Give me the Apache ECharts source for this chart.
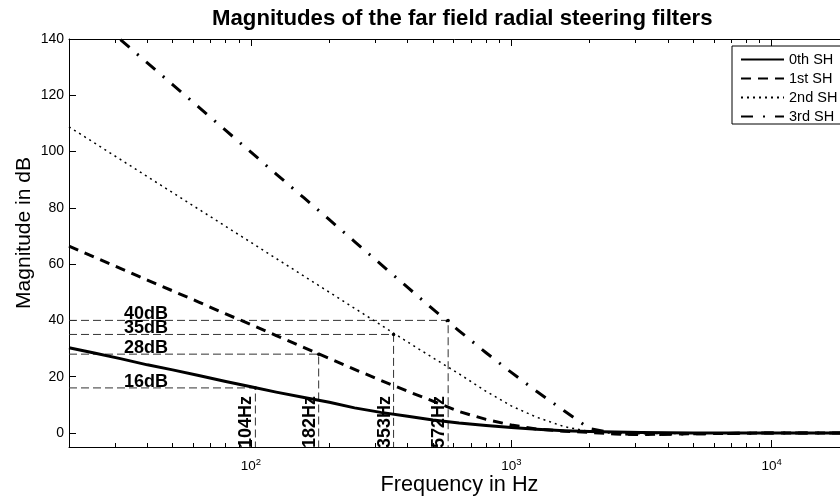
<!DOCTYPE html>
<html>
<head>
<meta charset="utf-8">
<script src="https://cdn.jsdelivr.net/npm/echarts@6/dist/echarts.min.js"></script>
<style>
html,body{margin:0;padding:0;background:#fff;}
#chart{width:840px;height:500px;}
</style>
</head>
<body>
<div id="chart"></div>
<script>
// ---- data ----
const freqs = [20, 25, 31.5, 40, 50, 63, 80, 100, 125, 160, 200, 250, 315, 400, 500, 630, 800, 1000, 1250, 1600, 2000, 2500, 3150, 4000, 5000, 6300, 8000, 10000, 12500, 16000, 20000];
const sh0 = [30.3, 28.4, 26.4, 24.2, 22.4, 20.4, 18.3, 16.4, 14.5, 12.6, 10.9, 8.9, 7.3, 5.9, 4.6, 3.5, 2.6, 1.9, 1.3, 0.8, 0.5, 0.3, 0.15, 0.1, 0.0, 0.0, 0.0, 0.0, 0.0, 0.0, 0.0];
const sh1 = [66.4, 62.5, 58.5, 54.3, 50.5, 46.5, 42.3, 38.5, 34.6, 30.3, 26.5, 22.6, 18.7, 14.8, 11.3, 7.6, 4.8, 2.8, 1.4, 0.6, 0.2, -0.4, -0.6, -0.4, -0.3, -0.2, -0.1, 0.0, 0.0, 0.0, 0.0];
const sh2 = [108.8, 103.1, 97.2, 91.1, 85.4, 79.5, 73.4, 67.7, 62.0, 55.7, 50.0, 44.3, 38.4, 32.3, 26.7, 21.0, 14.8, 9.6, 5.6, 2.2, 0.5, -0.2, -0.3, -0.2, -0.1, 0.0, 0.0, 0.0, 0.0, 0.0, 0.0];
const sh3 = [155.6, 147.9, 139.8, 131.5, 123.8, 115.8, 107.5, 99.8, 92.0, 83.5, 75.8, 68.0, 60.0, 51.7, 44.0, 36.3, 28.5, 21.5, 14.8, 7.8, 1.5, -0.2, -0.6, -0.5, -0.3, -0.2, -0.1, 0.0, 0.0, 0.0, 0.0];
const seriesNames = ['0th SH', '1st SH', '2nd SH', '3rd SH'];

const markerFreqs = [104, 182, 353, 572];
const markerDb = [16, 28, 35, 40];
const markerDbLabels = ['16dB', '28dB', '35dB', '40dB'];
const markerHzLabels = ['104Hz', '182Hz', '353Hz', '572Hz'];

const xMin = 20, xMax = 20000, yMin = -5, yMax = 140;
const xMajorTicks = [100, 1000, 10000];
const xMinorTicks = [20, 30, 40, 50, 60, 70, 80, 90, 200, 300, 400, 500, 600, 700, 800, 900, 2000, 3000, 4000, 5000, 6000, 7000, 8000, 9000, 20000];
const yTicks = [0, 20, 40, 60, 80, 100, 120, 140];

// ---- chart ----
const FONT = '"Liberation Sans", Arial, Helvetica, sans-serif';
const chart = echarts.init(document.getElementById('chart'), null, {renderer: 'canvas'});

function pairs(arr) { return freqs.map((f, i) => [f, arr[i]]); }

const axisLineStyle = {color: '#000', width: 1};

function xAxisBase(extra) {
  return Object.assign({
    type: 'log', logBase: 10, min: xMin, max: xMax, gridIndex: 0,
    splitLine: {show: false}, axisLabel: {show: false},
    axisLine: {show: false, onZero: false, lineStyle: axisLineStyle}
  }, extra);
}

const mainStyles = [
  {width: 3, type: 'solid'},
  {width: 3, type: [10, 7]},
  {width: 1.5, type: [2, 4]},
  {width: 3, type: [12, 10, 2, 10]}
];
const mainData = [sh0, sh1, sh2, sh3];

const series = [];
// annotation dashed lines
markerFreqs.forEach((f, i) => {
  series.push({
    type: 'line', z: 1, silent: true, symbol: 'none',
    data: [[xMin, markerDb[i]], [f, markerDb[i]], [f, yMin]],
    lineStyle: {color: '#333', width: 1, type: [8, 4]}
  });
});
// corner dots
series.push({
  type: 'scatter', z: 3, silent: true, symbolSize: 3.5,
  itemStyle: {color: '#000', opacity: 1},
  data: markerFreqs.map((f, i) => [f, markerDb[i]])
});
// dB labels
series.push({
  type: 'scatter', z: 4, silent: true, symbolSize: 0,
  itemStyle: {color: '#000', opacity: 1},
  data: markerDb.map((d, i) => ({value: [xMin, d], label: {formatter: markerDbLabels[i]}})),
  label: {show: true, position: 'inside', align: 'left', verticalAlign: 'bottom', offset: [55, 3],
          fontSize: 18, fontWeight: 'bold', color: '#000', opacity: 1, fontFamily: FONT}
});
// Hz labels
series.push({
  type: 'scatter', z: 4, silent: true, symbolSize: 0,
  itemStyle: {color: '#000', opacity: 1},
  data: markerFreqs.map((f, i) => ({value: [f, yMin], label: {formatter: markerHzLabels[i]}})),
  label: {show: true, position: 'inside', rotate: 90, align: 'left', verticalAlign: 'bottom', offset: [-1, 0],
          fontSize: 18, fontWeight: 'bold', color: '#000', opacity: 1, fontFamily: FONT}
});
// main curves
mainData.forEach((arr, i) => {
  series.push({
    name: seriesNames[i], type: 'line', z: 5, symbol: 'none', showSymbol: false,
    data: pairs(arr), clip: true,
    lineStyle: Object.assign({color: '#000', cap: 'butt', join: 'round'}, mainStyles[i]),
    itemStyle: {color: '#000'}
  });
});

const option = {
  animation: false,
  backgroundColor: '#fff',
  textStyle: {fontFamily: FONT, color: '#000'},
  title: {
    text: 'Magnitudes of the far field radial steering filters',
    left: 212, top: 8, padding: 0,
    textStyle: {fontSize: 22.2, fontWeight: 'bold', color: '#000', fontFamily: FONT}
  },
  grid: {left: 69, right: -10, top: 39, bottom: 53, containLabel: false, outerBoundsMode: 'none'},
  legend: {
    data: seriesNames, orient: 'vertical', left: 732, top: 46,
    padding: [6, 12, 0, 8], itemGap: 4, itemWidth: 43, itemHeight: 14,
    borderColor: '#000', borderWidth: 1, backgroundColor: '#fff',
    itemStyle: {color: 'rgba(0,0,0,0)', borderColor: 'rgba(0,0,0,0)', borderWidth: 0},
    textStyle: {fontSize: 14.5, color: '#000', fontFamily: FONT}
  },
  xAxis: [
    xAxisBase({
      position: 'bottom',
      axisLine: {show: true, onZero: false, lineStyle: axisLineStyle},
      axisTick: {show: true, inside: true, length: 7, customValues: xMajorTicks, lineStyle: {color: '#000'}},
      axisLabel: {
        show: true, customValues: xMajorTicks, margin: 10,
        formatter: function (v) { return '{b|10}{s|' + Math.round(Math.log10(v)) + '}'; },
        rich: {
          b: {fontSize: 13.5, color: '#000', fontFamily: FONT, verticalAlign: 'bottom'},
          s: {fontSize: 9.5, color: '#000', fontFamily: FONT, verticalAlign: 'bottom', padding: [0, 0, 6, 0]}
        }
      },
      name: 'Frequency in Hz', nameLocation: 'middle', nameGap: 27, nameMoveOverlap: false,
      nameTextStyle: {fontSize: 21.7, color: '#000', fontFamily: FONT}
    }),
    xAxisBase({
      position: 'bottom',
      axisTick: {show: true, inside: true, length: 4, customValues: xMinorTicks, lineStyle: {color: '#000'}}
    }),
    xAxisBase({
      position: 'top',
      axisLine: {show: true, onZero: false, lineStyle: axisLineStyle},
      axisTick: {show: true, inside: true, length: 7, customValues: xMajorTicks, lineStyle: {color: '#000'}}
    }),
    xAxisBase({
      position: 'top',
      axisTick: {show: true, inside: true, length: 4, customValues: xMinorTicks, lineStyle: {color: '#000'}}
    })
  ],
  yAxis: [{
    type: 'value', min: yMin, max: yMax, position: 'left',
    splitLine: {show: false},
    axisLine: {show: true, onZero: false, lineStyle: axisLineStyle},
    axisTick: {show: true, inside: true, length: 7, customValues: yTicks, lineStyle: {color: '#000'}},
    axisLabel: {show: true, customValues: yTicks, margin: 5, fontSize: 14, color: '#000', fontFamily: FONT},
    name: 'Magnitude in dB', nameLocation: 'middle', nameGap: 34, nameRotate: 90, nameMoveOverlap: false,
    nameTextStyle: {fontSize: 21, color: '#000', fontFamily: FONT, padding: [0, 0, 0, 20]}
  }],
  series: series
};
chart.setOption(option);
</script>
</body>
</html>
